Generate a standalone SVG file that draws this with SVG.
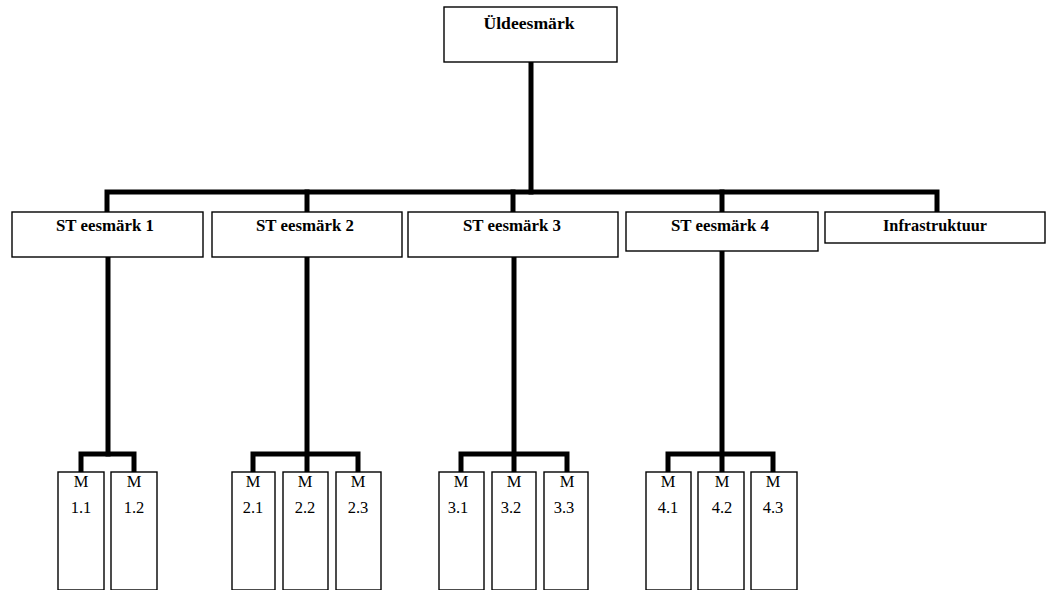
<svg xmlns="http://www.w3.org/2000/svg" width="1048" height="590" viewBox="0 0 1048 590">
  <style>
    .box { fill: #ffffff; stroke: #000000; stroke-width: 1.4; }
    .wire { fill: none; stroke: #000000; stroke-width: 5; stroke-linejoin: miter; stroke-linecap: square; }
    .head { font-family: "Liberation Serif", "Times New Roman", serif; font-weight: bold; font-size: 17px; text-anchor: middle; fill: #000000; }
    .leaf { font-family: "Liberation Serif", "Times New Roman", serif; font-size: 16.5px; text-anchor: middle; fill: #000000; }
  </style>
  <rect width="1048" height="590" fill="#ffffff"/>

  <!-- connectors -->
  <g id="connectors" class="wire">
    <path d="M531,62 V192"/>
    <path d="M107,212 V192 H937 V212"/>
    <path d="M307,192 V212"/>
    <path d="M513,192 V212"/>
    <path d="M722,192 V212"/>
    <!-- branch 1 -->
    <path d="M108,257 V454"/>
    <path d="M81,472 V454 H134 V472"/>
    <!-- branch 2 -->
    <path d="M307,257 V472"/>
    <path d="M253,472 V454 H358 V472"/>
    <!-- branch 3 -->
    <path d="M514,257 V472"/>
    <path d="M461,472 V454 H567 V472"/>
    <!-- branch 4 -->
    <path d="M722,251 V472"/>
    <path d="M668,472 V454 H773 V472"/>
  </g>

  <!-- root -->
  <g id="node-root">
    <rect class="box" x="444" y="7" width="173" height="55"/>
    <text class="head" x="529" y="29" textLength="91" lengthAdjust="spacingAndGlyphs">Üldeesmärk</text>
  </g>

  <!-- second level -->
  <g id="node-st1">
    <rect class="box" x="12" y="212" width="191" height="45"/>
    <text class="head" x="105" y="231" textLength="98" lengthAdjust="spacingAndGlyphs">ST eesmärk 1</text>
  </g>
  <g id="node-st2">
    <rect class="box" x="212" y="212" width="190" height="45"/>
    <text class="head" x="305" y="231" textLength="98" lengthAdjust="spacingAndGlyphs">ST eesmärk 2</text>
  </g>
  <g id="node-st3">
    <rect class="box" x="408" y="212" width="210" height="45"/>
    <text class="head" x="512" y="231" textLength="98" lengthAdjust="spacingAndGlyphs">ST eesmärk 3</text>
  </g>
  <g id="node-st4">
    <rect class="box" x="626" y="212" width="192" height="39"/>
    <text class="head" x="720" y="231" textLength="98" lengthAdjust="spacingAndGlyphs">ST eesmärk 4</text>
  </g>
  <g id="node-infra">
    <rect class="box" x="825" y="212" width="220" height="31"/>
    <text class="head" x="935" y="231" textLength="104" lengthAdjust="spacingAndGlyphs">Infrastruktuur</text>
  </g>

  <!-- measures -->
  <g id="node-m11">
    <rect class="box" x="58" y="472" width="46" height="118"/>
    <text class="leaf" x="81" y="487">M</text>
    <text class="leaf" x="81" y="513">1.1</text>
  </g>
  <g id="node-m12">
    <rect class="box" x="111" y="472" width="46" height="118"/>
    <text class="leaf" x="134" y="487">M</text>
    <text class="leaf" x="134" y="513">1.2</text>
  </g>
  <g id="node-m21">
    <rect class="box" x="232" y="472" width="43" height="118"/>
    <text class="leaf" x="253" y="487">M</text>
    <text class="leaf" x="253" y="513">2.1</text>
  </g>
  <g id="node-m22">
    <rect class="box" x="283" y="472" width="45" height="118"/>
    <text class="leaf" x="305" y="487">M</text>
    <text class="leaf" x="305" y="513">2.2</text>
  </g>
  <g id="node-m23">
    <rect class="box" x="336" y="472" width="45" height="118"/>
    <text class="leaf" x="358" y="487">M</text>
    <text class="leaf" x="358" y="513">2.3</text>
  </g>
  <g id="node-m31">
    <rect class="box" x="439" y="472" width="45" height="118"/>
    <text class="leaf" x="461" y="487">M</text>
    <text class="leaf" x="458" y="513">3.1</text>
  </g>
  <g id="node-m32">
    <rect class="box" x="492" y="472" width="44" height="118"/>
    <text class="leaf" x="514" y="487">M</text>
    <text class="leaf" x="511" y="513">3.2</text>
  </g>
  <g id="node-m33">
    <rect class="box" x="544" y="472" width="44" height="118"/>
    <text class="leaf" x="567" y="487">M</text>
    <text class="leaf" x="564" y="513">3.3</text>
  </g>
  <g id="node-m41">
    <rect class="box" x="646" y="472" width="45" height="118"/>
    <text class="leaf" x="668" y="487">M</text>
    <text class="leaf" x="668" y="513">4.1</text>
  </g>
  <g id="node-m42">
    <rect class="box" x="698" y="472" width="46" height="118"/>
    <text class="leaf" x="722" y="487">M</text>
    <text class="leaf" x="722" y="513">4.2</text>
  </g>
  <g id="node-m43">
    <rect class="box" x="751" y="472" width="46" height="118"/>
    <text class="leaf" x="773" y="487">M</text>
    <text class="leaf" x="773" y="513">4.3</text>
  </g>
</svg>
